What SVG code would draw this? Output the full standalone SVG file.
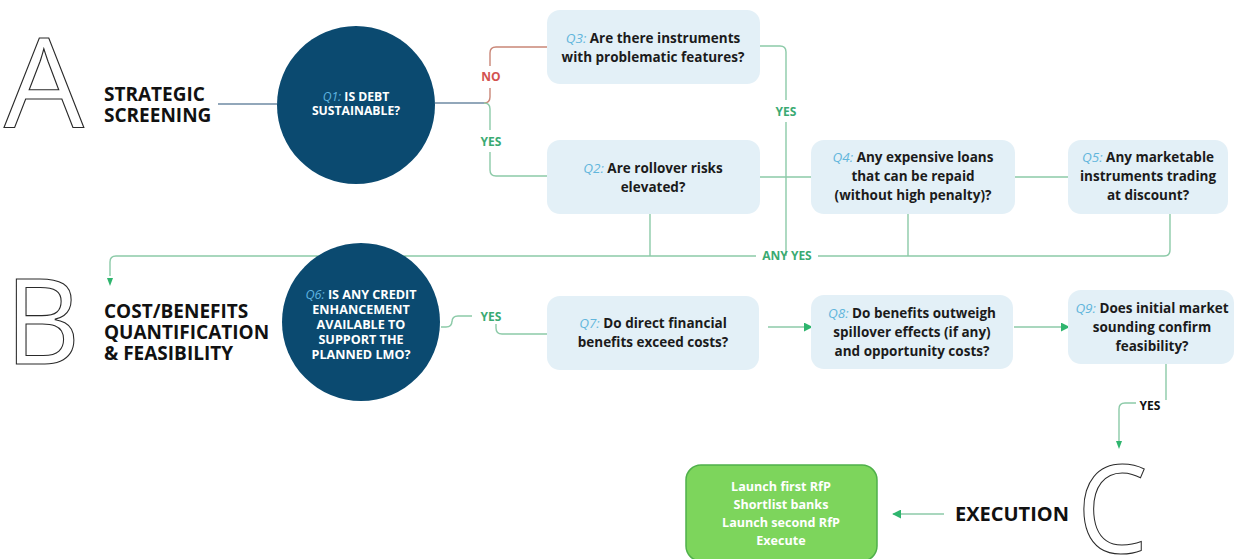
<svg xmlns="http://www.w3.org/2000/svg" width="1236" height="559" viewBox="0 0 1236 559">
<defs>
<style>
.big{font-family:"Open Sans","DejaVu Sans",sans-serif;font-weight:450;fill:#fff;stroke:#2a2a2a;stroke-width:1.1}
.stage{font-family:"Open Sans","DejaVu Sans",sans-serif;font-weight:700;font-size:19px;fill:#111}
.box{fill:#e3f0f7}
.bt{font-family:"Open Sans","DejaVu Sans",sans-serif;font-weight:700;font-size:13.5px;fill:#1b1b1b;text-anchor:middle}
.q{font-weight:400;font-style:italic;fill:#62b6dc}
.ct{font-family:"Open Sans","DejaVu Sans",sans-serif;font-weight:700;font-size:12.2px;fill:#fff;text-anchor:middle}
.circ{fill:#0b4a70}
.gl{fill:none;stroke:#8ccaa8;stroke-width:1.4}
.rl{fill:none;stroke:#c98677;stroke-width:1.4}
.bl{fill:none;stroke:#6e8aa3;stroke-width:1.4}
.gt{font-family:"Open Sans","DejaVu Sans",sans-serif;font-weight:700;font-size:12px;fill:#3aaa72;text-anchor:middle}
.rt{font-family:"Open Sans","DejaVu Sans",sans-serif;font-weight:700;font-size:12px;fill:#d2524f;text-anchor:middle}
.kt{font-family:"Open Sans","DejaVu Sans",sans-serif;font-weight:700;font-size:12px;fill:#111;text-anchor:middle}
.wt{font-family:"Open Sans","DejaVu Sans",sans-serif;font-weight:700;font-size:12.6px;fill:#fff;text-anchor:middle}
</style>
<marker id="ah" viewBox="0 0 10 10" refX="9" refY="5" markerWidth="9" markerHeight="9" markerUnits="userSpaceOnUse" orient="auto">
<path d="M0,0 L10,5 L0,10 z" fill="#2fb56e"/>
</marker>
</defs>
<rect width="1236" height="559" fill="#fff"/>

<g id="stageA">
<text class="big" x="0" y="0" font-size="124" transform="translate(4,127) scale(1.02,1)">A</text>
<text class="stage" x="104" y="101">STRATEGIC</text>
<text class="stage" x="104" y="122">SCREENING</text>
</g>
<g id="stageB">
<text class="big" x="0" y="0" font-size="120" transform="translate(5,364) scale(0.97,1)">B</text>
<text class="stage" x="104" y="318">COST/BENEFITS</text>
<text class="stage" x="104" y="339">QUANTIFICATION</text>
<text class="stage" x="104" y="360">&amp; FEASIBILITY</text>
</g>
<g id="stageC">
<text class="big" x="0" y="0" font-size="122" transform="translate(1077,553) scale(0.92,1)">C</text>
<text class="stage" x="955" y="521" style="font-size:20px">EXECUTION</text>
</g>

<g id="connectors">
<path class="bl" d="M218,104 H277"/>
<path class="bl" d="M435,103 H484"/>
<path class="rl" d="M484,103 Q490,103 490,97 V88 M490,66 V53 Q490,47 496,47 H547"/>
<path class="gl" d="M484,103 Q490,103 490,109 V130 M490,152 V170 Q490,176 496,176 H547"/>
<path class="gl" d="M760,46 H780 Q786,46 786,52 V100 M786,122 V256"/>
<path class="gl" d="M760,177 H811 M1015,177 H1068"/>
<path class="gl" d="M650,214 V256 M908,214 V256 M1170,214 V250 Q1170,256 1164,256 H818 M756,256 H116 Q110,256 110,262 V276"/>
<path class="gl" d="M441,327 H446 Q452,327 452,321 V322 Q452,316 458,316 H472"/>
<path class="gl" d="M496,324 V328 Q496,334 502,334 H547"/>
<path class="gl" d="M768,327 H812" marker-end="url(#ah)"/>
<path class="gl" d="M1014,327 H1069" marker-end="url(#ah)"/>
<path class="gl" d="M1166,364 V400 M1136,403 H1125 Q1119,403 1119,409 V442"/>
<path class="gl" d="M944,514 H893" marker-end="url(#ah)"/>
<path d="M113,278 L107,278 L110,286 z M1116,441 L1122,441 L1119,449 z" fill="#2fb56e"/>
<text class="rt" x="491" y="81">NO</text>
<text class="gt" x="491" y="146">YES</text>
<text class="gt" x="786" y="116">YES</text>
<text class="gt" x="787" y="260">ANY YES</text>
<text class="gt" x="491" y="321">YES</text>
<text class="kt" x="1150" y="410">YES</text>
</g>

<g id="Q1">
<circle class="circ" cx="356" cy="105" r="79"/>
<text class="ct" x="356" y="101"><tspan class="q" style="fill:#5fb4e0">Q1:</tspan> IS DEBT</text>
<text class="ct" x="356" y="115">SUSTAINABLE?</text>
</g>
<g id="Q3">
<rect class="box" x="547" y="10" width="213" height="74" rx="13"/>
<text class="bt" x="653" y="43"><tspan class="q">Q3:</tspan> Are there instruments</text>
<text class="bt" x="653" y="62">with problematic features?</text>
</g>
<g id="Q2">
<rect class="box" x="547" y="140" width="213" height="74" rx="13"/>
<text class="bt" x="653" y="173"><tspan class="q">Q2:</tspan> Are rollover risks</text>
<text class="bt" x="653" y="192">elevated?</text>
</g>
<g id="Q4">
<rect class="box" x="811" y="140" width="204" height="74" rx="13"/>
<text class="bt" x="913" y="162"><tspan class="q">Q4:</tspan> Any expensive loans</text>
<text class="bt" x="913" y="181">that can be repaid</text>
<text class="bt" x="913" y="200">(without high penalty)?</text>
</g>
<g id="Q5">
<rect class="box" x="1068" y="140" width="160" height="74" rx="13"/>
<text class="bt" x="1148" y="162"><tspan class="q">Q5:</tspan> Any marketable</text>
<text class="bt" x="1148" y="181">instruments trading</text>
<text class="bt" x="1148" y="200">at discount?</text>
</g>
<g id="Q6">
<circle class="circ" cx="361" cy="322" r="79"/>
<text class="ct" x="361" y="299" style="font-size:12.6px"><tspan class="q" style="fill:#5fb4e0">Q6:</tspan> IS ANY CREDIT</text>
<text class="ct" x="361" y="314" style="font-size:12.6px">ENHANCEMENT</text>
<text class="ct" x="361" y="329" style="font-size:12.6px">AVAILABLE TO</text>
<text class="ct" x="361" y="344" style="font-size:12.6px">SUPPORT THE</text>
<text class="ct" x="361" y="359" style="font-size:12.6px">PLANNED LMO?</text>
</g>
<g id="Q7">
<rect class="box" x="547" y="296" width="212" height="74" rx="13"/>
<text class="bt" x="653" y="328"><tspan class="q">Q7:</tspan> Do direct financial</text>
<text class="bt" x="653" y="347">benefits exceed costs?</text>
</g>
<g id="Q8">
<rect class="box" x="811" y="295" width="202" height="74" rx="13"/>
<text class="bt" x="912" y="318"><tspan class="q">Q8:</tspan> Do benefits outweigh</text>
<text class="bt" x="912" y="337">spillover effects (if any)</text>
<text class="bt" x="912" y="356">and opportunity costs?</text>
</g>
<g id="Q9">
<rect class="box" x="1068" y="290" width="166" height="74" rx="13"/>
<text class="bt" x="1152" y="313"><tspan class="q">Q9:</tspan> Does initial market</text>
<text class="bt" x="1152" y="332">sounding confirm</text>
<text class="bt" x="1152" y="351">feasibility?</text>
</g>
<g id="execution">
<rect x="686" y="465" width="191" height="96" rx="15" fill="#7dd55c" stroke="#4fb04a" stroke-width="1.5"/>
<text class="wt" x="781" y="491">Launch first RfP</text>
<text class="wt" x="781" y="509">Shortlist banks</text>
<text class="wt" x="781" y="527">Launch second RfP</text>
<text class="wt" x="781" y="545">Execute</text>
</g>
</svg>
